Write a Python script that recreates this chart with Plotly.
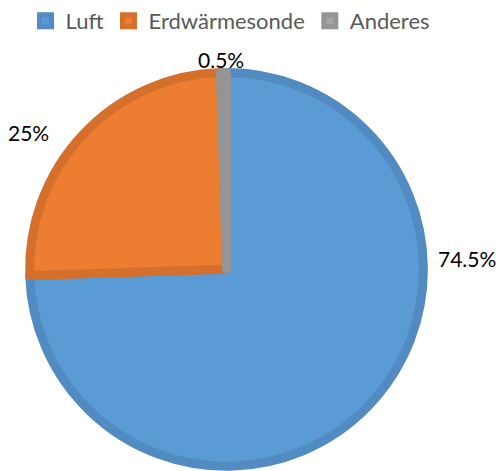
import plotly.graph_objects as go

# data
labels = ['Luft', 'Erdwärmesonde', 'Anderes']
values = [74.5, 25, 0.5]
label_text = ['74.5%', '25%', '0.5%']

fill_colors = ['#5B9BD5', '#ED7D31', '#A5A5A5']
line_colors = ['#528BC1', '#D5702C', '#959595']

fig = go.Figure(go.Pie(
    labels=labels,
    values=values,
    sort=False,
    direction='clockwise',
    rotation=0,
    textinfo='none',
    hoverinfo='label+percent',
    marker=dict(colors=fill_colors, line=dict(color=line_colors, width=9)),
    domain=dict(x=[0.059, 0.847], y=[0.0102, 0.8462]),
))

# label positions (paper coords), same order as values
label_pos = [(0.934, 0.452), (0.056, 0.718), (0.442, 0.873)]
for t, (x, y) in zip(label_text, label_pos):
    fig.add_annotation(text=t, x=x, y=y, xref='paper', yref='paper',
                       xanchor='center', yanchor='middle',
                       showarrow=False, font=dict(size=21, color='#000000'))

fig.update_layout(
    width=500, height=471,
    margin=dict(l=0, r=0, t=0, b=0),
    paper_bgcolor='white',
    font=dict(family='Lato, sans-serif'),
    legend=dict(orientation='h', x=0.461, xanchor='center', y=1.0, yanchor='top',
                font=dict(size=22, color='#595959'), itemwidth=30),
)

fig.write_html("out.html", config={'displayModeBar': False},
               post_script="document.body.style.margin='0';")
